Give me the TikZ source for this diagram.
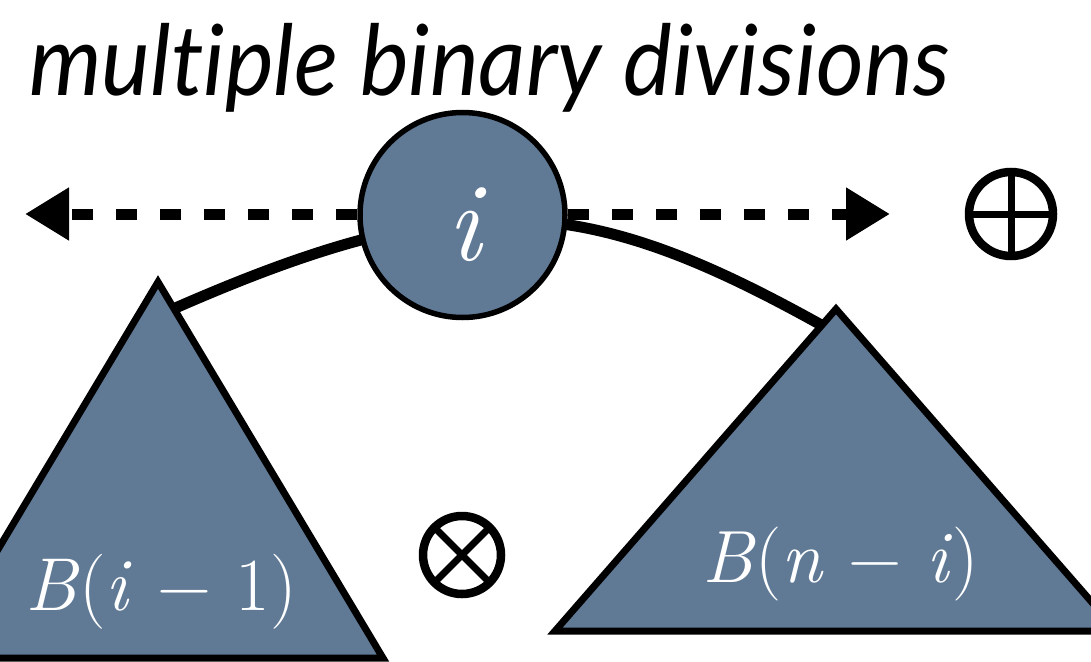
\documentclass[tikz,border=0pt]{standalone}
\usepackage{fontspec}
\usetikzlibrary{arrows.meta}
\newfontfamily\titlefont[Ligatures=NoCommon,FakeStretch=0.94]{Lato}
\definecolor{slate}{RGB}{96,122,150}
\tikzset{
  blobfill/.style={fill=slate, draw=black, line width=7pt, line join=miter},
  bignode/.style={circle, fill=slate, draw=black, line width=5.5pt, minimum size=205pt, inner sep=0pt},
  dasharrow/.style={line width=11pt, dash pattern=on 21pt off 23pt, -{Triangle[length=44pt,width=50pt]}},
  arcline/.style={line width=11pt},
  opcirc/.style={circle, draw=black, line width=8.5pt, minimum size=84pt, inner sep=0pt, outer sep=0pt},
  opline/.style={line width=7pt},
  wtext/.style={text=white, inner sep=0pt, anchor=base west},
}
\begin{document}
\begin{tikzpicture}[x=1pt,y=-1pt]
\useasboundingbox (0,0) rectangle (1091,661);
% title
\node[inner sep=0pt, anchor=base west] (title) at (29,95)
  {\titlefont\itshape\fontsize{98}{98}\selectfont multiple binary divisions};
% triangle corners and curve ends
\coordinate (la) at (158,282);
\coordinate (ll) at (-67,658);
\coordinate (lr) at (383,658);
\coordinate (ra) at (836,309);
\coordinate (rl) at (555,631);
\coordinate (rr) at (1117,631);
\coordinate (lcurve) at (164,313);
\coordinate (rcurve) at (832,331);
% connecting arc behind everything
\draw[arcline] (lcurve) .. controls (466,179) and (587,193) .. (rcurve);
% triangles
\draw[blobfill] (ll) -- (la) -- (lr) -- cycle;
\draw[blobfill] (rl) -- (ra) -- (rr) -- cycle;
% central node
\node[bignode] (ci) at (462.5,215) {};
\node[text=white, inner sep=0pt, anchor=base] (ilab) at (464,260)
  {\fontsize{112}{112}\selectfont\itshape i};
% dashed arrows
\coordinate (ltip) at (25,214);
\coordinate (rtip) at (890,214);
\draw[dasharrow] (ci.west |- ltip) -- (ltip);
\draw[dasharrow] (ci.east |- rtip) -- (rtip);
% operators
\node[opcirc] (plus) at (1011,214) {};
\draw[opline] (plus.north) -- (plus.south);
\draw[opline] (plus.west) -- (plus.east);
\node[opcirc, minimum size=78pt] (times) at (462,555) {};
\draw[opline] (times.north west) -- (times.south east);
\draw[opline] (times.north east) -- (times.south west);
% labels
\node[wtext] (lbl) at (25,610)
  {\fontsize{75}{75}\selectfont\textit{B}(\textit{i}\,\,\char"2212\,\,1)};
\node[wtext] (rbl) at (702,582)
  {\fontsize{74}{74}\selectfont\textit{B}(\textit{n}\,\,\char"2212\,\,\textit{i})};
\end{tikzpicture}
\end{document}
